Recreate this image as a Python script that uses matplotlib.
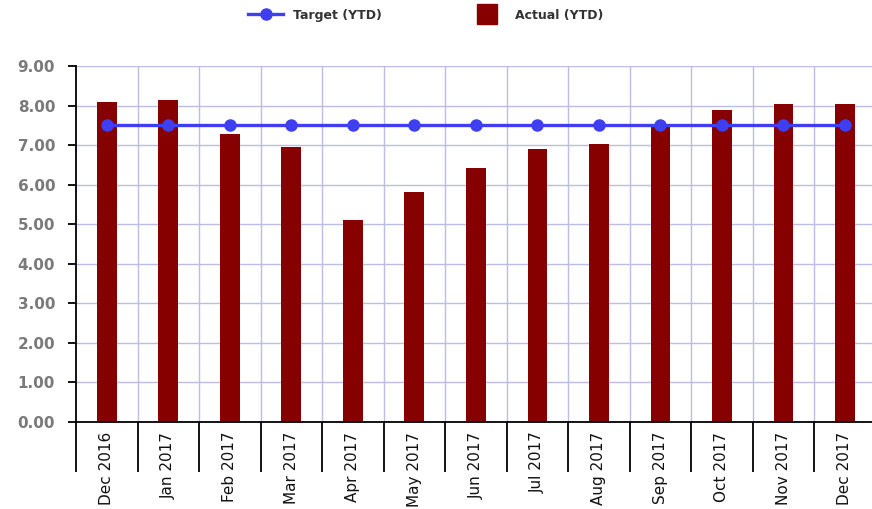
import numpy as np
import matplotlib.pyplot as plt
from matplotlib.lines import Line2D

months = ["Dec 2016", "Jan 2017", "Feb 2017", "Mar 2017", "Apr 2017", "May 2017", "Jun 2017",
          "Jul 2017", "Aug 2017", "Sep 2017", "Oct 2017", "Nov 2017", "Dec 2017"]
actual_ytd = [8.09, 8.15, 7.29, 6.94, 5.10, 5.82, 6.42, 6.89, 7.04, 7.52, 7.90, 8.05, 8.05]
target_ytd = [7.5] * 13
y_ticks = [0, 1, 2, 3, 4, 5, 6, 7, 8, 9]

fig = plt.figure(figsize=(8.72, 5.09), dpi=100)
ax = fig.add_axes([76 / 872, 1 - 422 / 509, 1 - 76 / 872, (422 - 66) / 509])

x = np.arange(len(months))
grid_col = "#bcbce4"
bar_col = "#870000"

# grid: horizontal at each unit, vertical at category boundaries
for v in y_ticks[1:]:
    ax.axhline(v, color=grid_col, lw=1.0, zorder=0)
for b in np.arange(0.5, len(months), 1.0):
    ax.axvline(b, color=grid_col, lw=1.0, zorder=0)

ax.bar(x, actual_ytd, width=0.32, color=bar_col, zorder=2)
line, = ax.plot(x, target_ytd, color="#3f3ff2", lw=2.4, marker="o", markersize=8,
                zorder=3, label="Target (YTD)")

ax.set_xlim(-0.5, 12.44)
ax.set_ylim(0, 9)

ax.spines["top"].set_visible(False)
ax.spines["right"].set_visible(False)
ax.spines["left"].set_linewidth(1.3)
ax.spines["bottom"].set_linewidth(1.3)

ax.set_yticks(y_ticks)
ax.set_yticklabels([f"{v:.2f}" for v in y_ticks], fontsize=11, fontweight="bold", color="#7a7a7a")
ax.tick_params(axis="y", direction="out", length=6, width=1.3, pad=9)

ax.set_xticks(x)
ax.set_xticklabels(months, rotation=90, fontsize=11, color="#111111", va="top", ha="center")
ax.tick_params(axis="x", which="major", length=0, pad=7)
ax.set_xticks(np.arange(-0.5, len(months) - 0.5, 1.0), minor=True)
ax.tick_params(axis="x", which="minor", direction="out", length=36, width=1.3)

# square legend key for the bars
bar_key = Line2D([], [], linestyle="none", marker="s", markersize=15,
                 markerfacecolor=bar_col, markeredgecolor=bar_col, label="Actual (YTD)")
leg = fig.legend(handles=[line, bar_key], loc="center", bbox_to_anchor=(0.488, 1 - 15 / 509),
                 ncol=2, frameon=False, columnspacing=7, handlelength=2.8,
                 prop={"weight": "bold", "size": 9})
for t in leg.get_texts():
    t.set_color("#333333")

fig.savefig("out.png", dpi=100)
